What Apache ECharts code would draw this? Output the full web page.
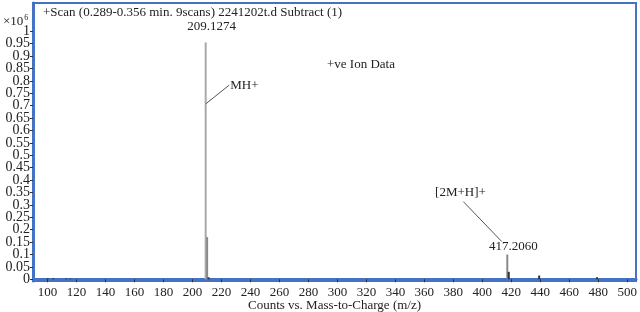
<!DOCTYPE html>
<html>
<head>
<meta charset="utf-8">
<script src="https://cdn.jsdelivr.net/npm/echarts@6/dist/echarts.min.js"></script>
<style>
html,body{margin:0;padding:0;background:#fff;}
#c{width:640px;height:312px;}
</style>
</head>
<body>
<div id="c"></div>
<script>
// ---- data ----
const mzValues    = [100.1, 103.9, 112.9, 115.7, 209.1274, 210.13, 211.13, 417.2060, 418.21, 439.19, 479.1];
const intensities = [0.004, 0.004, 0.003, 0.003, 0.955,    0.17,   0.008,  0.100,    0.03,   0.015,  0.008]; // x10^6 counts
const labelledPeaks = [209.1274, 417.2060];
const xTicks = [100,120,140,160,180,200,220,240,260,280,300,320,340,360,380,400,420,440,460,480,500];
const yTicks = [0,0.05,0.1,0.15,0.2,0.25,0.3,0.35,0.4,0.45,0.5,0.55,0.6,0.65,0.7,0.75,0.8,0.85,0.9,0.95,1];
const titleText = '+Scan (0.289-0.356 min. 9scans) 2241202t.d Subtract (1)';
const xName = 'Counts vs. Mass-to-Charge (m/z)';
// annotations: [text, anchor x (m/z), anchor y (x10^6)]
const annotations = [['MH+', 225.4, 0.783], ['+ve Ion Data', 292.1, 0.864], ['[2M+H]+', 384.9, 0.349]];
// leader lines: [[x1,y1],[x2,y2]]
const leaders = [[[209.1274, 0.707], [225.4, 0.783]], [[386.9, 0.313], [413.4, 0.152]]];

const FONT = '"Liberation Serif", "Times New Roman", serif';
const BLUE = '#4472c4';
const Y_MIN = -0.007, Y_MAX = 1.114;

// split tick labels into two interleaved sets so the library doesn't hide crowded ones
const yEven = yTicks.filter((_, i) => i % 2 === 0);
const yOdd = yTicks.filter((_, i) => i % 2 === 1);

const barData = mzValues.map((mz, i) => {
  const v = intensities[i];
  const item = { value: [mz, v], itemStyle: { color: v > 0.05 ? (v > 0.5 ? '#a9a9a9' : '#8a8a8a') : '#333' } };
  if (labelledPeaks.indexOf(mz) >= 0) {
    item.label = {
      show: true, position: 'top', formatter: mz.toFixed(4),
      distance: v > 0.5 ? 9 : 1, offset: [6, 0],
      fontFamily: FONT, fontSize: 13, color: '#222'
    };
  }
  return item;
});

const yLabelStyle = { margin: 3, hideOverlap: false, showMinLabel: true, showMaxLabel: true,
  fontFamily: FONT, fontSize: 14, lineHeight: 9, color: '#222',
  formatter: v => String(parseFloat(v.toFixed(2))) };

const chart = echarts.init(document.getElementById('c'), null, { renderer: 'canvas' });
chart.setOption({
  animation: false,
  backgroundColor: '#fff',
  title: [
    { text: titleText, left: 43, top: 6, padding: 0, textStyle: { fontFamily: FONT, fontSize: 13, fontWeight: 'normal', color: '#222' } },
    { text: '×10{s|6}', left: 3, top: 14, padding: 0,
      textStyle: { fontFamily: FONT, fontSize: 13, fontWeight: 'normal', color: '#222',
        rich: { s: { fontFamily: FONT, fontSize: 8, verticalAlign: 'top', padding: [0, 0, 8, 1], color: '#222' } } } }
  ],
  grid: { left: 33, right: 4, top: 3, bottom: 31, containLabel: false, outerBoundsMode: 'none',
    show: true, borderColor: BLUE, borderWidth: 2, backgroundColor: '#fff' },
  xAxis: {
    type: 'value', min: 90, max: 506,
    name: xName, nameLocation: 'middle', nameGap: 18, nameMoveOverlap: false,
    nameTextStyle: { fontFamily: FONT, fontSize: 13, color: '#222' },
    axisLine: { show: true, lineStyle: { color: BLUE, width: 3 } },
    axisTick: { show: true, customValues: xTicks, length: 3, lineStyle: { color: '#333' } },
    axisLabel: { customValues: xTicks, margin: 5, hideOverlap: false, fontFamily: FONT, fontSize: 13, color: '#222' },
    splitLine: { show: false }
  },
  yAxis: [{
    type: 'value', min: Y_MIN, max: Y_MAX, position: 'left',
    axisLine: { show: true, lineStyle: { color: BLUE, width: 3 } },
    axisTick: { show: true, customValues: yTicks, length: 3, lineStyle: { color: '#333' } },
    axisLabel: Object.assign({ customValues: yEven }, yLabelStyle),
    splitLine: { show: false }
  }, {
    type: 'value', min: Y_MIN, max: Y_MAX, position: 'left', offset: 0,
    axisLine: { show: false },
    axisTick: { show: false },
    axisLabel: Object.assign({ customValues: yOdd }, yLabelStyle),
    splitLine: { show: false }
  }],
  series: [{
    type: 'bar',
    barWidth: 2,
    data: barData,
    markLine: {
      silent: true, symbol: 'none',
      label: { show: false },
      lineStyle: { color: '#555', width: 1, type: 'solid' },
      data: leaders.map(l => [{ coord: l[0] }, { coord: l[1] }])
    },
    markPoint: {
      silent: true,
      data: annotations.map(a => ({
        coord: [a[1], a[2]], symbolSize: 0,
        label: { show: true, formatter: a[0], position: a[0] === '[2M+H]+' ? 'inside' : 'right', distance: 1,
          fontFamily: FONT, fontSize: 13, color: '#222' }
      }))
    }
  }]
});
</script>
</body>
</html>
